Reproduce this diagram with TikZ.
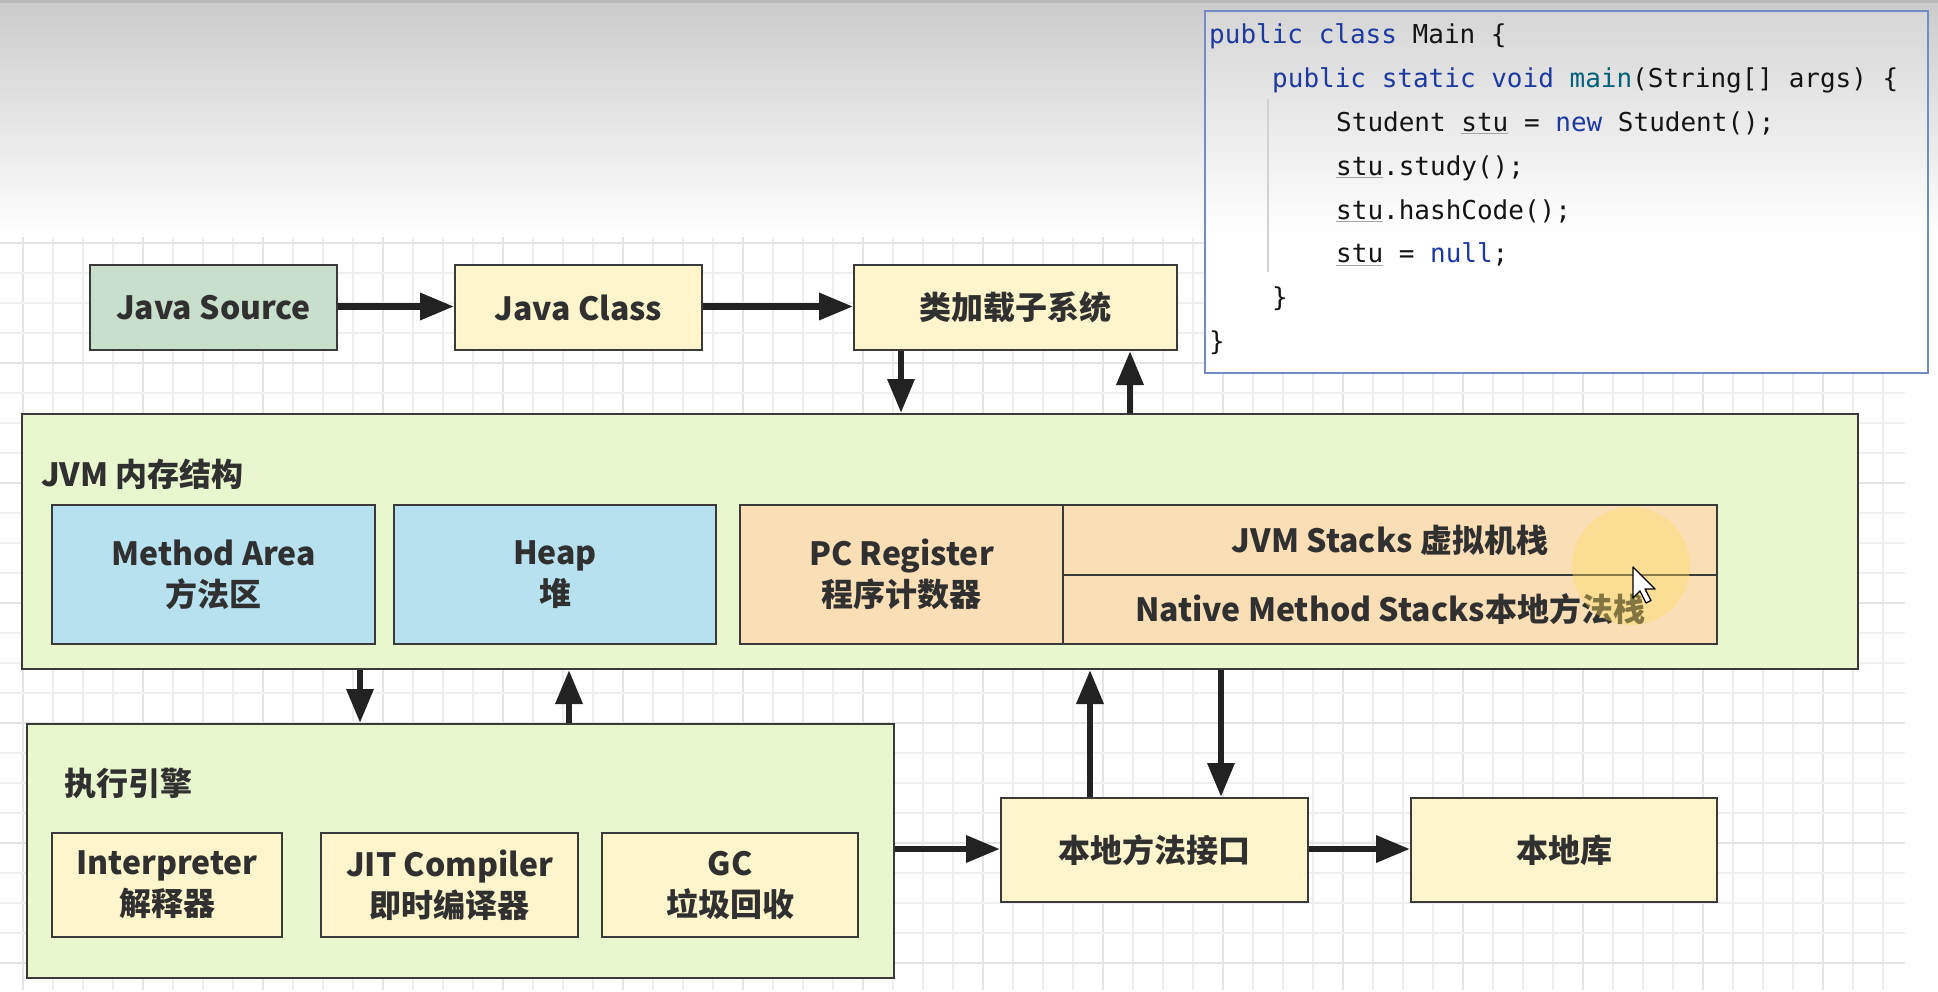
\documentclass[tikz,border=0pt]{standalone}
\usepackage{fontspec}
\setmainfont{Noto Sans CJK SC}
\setmonofont{DejaVu Sans Mono}
\usetikzlibrary{arrows.meta,calc}
\definecolor{bordc}{RGB}{58,58,58}
\definecolor{txtc}{RGB}{48,48,48}
\definecolor{arrc}{RGB}{34,34,34}
\definecolor{gsrc}{RGB}{200,223,203}
\definecolor{ylw}{RGB}{255,245,204}
\definecolor{lgrn}{RGB}{233,247,207}
\definecolor{lblu}{RGB}{184,225,240}
\definecolor{orng}{RGB}{250,222,182}
\definecolor{gridc}{RGB}{238,238,238}
\definecolor{gridm}{RGB}{228,228,228}
\definecolor{kwc}{RGB}{28,58,160}
\definecolor{fnc}{RGB}{0,98,122}
\definecolor{codec}{RGB}{20,20,20}
\definecolor{codeb}{RGB}{112,142,196}
\definecolor{hlc}{RGB}{253,222,95}
\definecolor{topg}{RGB}{203,203,203}
\definecolor{topl}{RGB}{185,185,185}
\definecolor{codetop}{RGB}{214,214,214}
\newcommand\bxf{\fontsize{32}{41}\selectfont\bfseries}
\newcommand\kw[1]{\textcolor{kwc}{#1}}
\newcommand\fnm[1]{\textcolor{fnc}{#1}}
\newcommand\stuvar{{\color{gray!70}\underline{\textcolor{codec}{stu}}}}
\tikzset{
  box/.style={draw=bordc, line width=2pt, inner sep=0pt, align=center, text=txtc, font=\bxf},
  arr/.style={draw=arrc, line width=6.5pt, -{Triangle[length=34pt,width=26pt]}},
  codeline/.style={anchor=base west, inner sep=0pt, text=codec, font=\ttfamily\fontsize{26}{30}\selectfont},
  lbl/.style={anchor=west, inner sep=0pt, text=txtc, font=\bxf}
}
\begin{document}
\begin{tikzpicture}[x=1pt,y=-1pt]
\useasboundingbox (0,0) rectangle (1938,992);
\fill[white] (0,0) rectangle (1938,992);
% grid
\foreach \k in {0,...,62} {
  \pgfmathtruncatemacro\mj{mod(\k,4)}
  \ifnum\mj=0 \def\gc{gridm}\else\def\gc{gridc}\fi
  \draw[\gc, line width=1.5pt] ({23+30*\k},237) -- ({23+30*\k},990);
}
\foreach \k in {8,...,33} {
  \pgfmathtruncatemacro\mj{mod(\k,4)}
  \ifnum\mj=0 \def\gc{gridm}\else\def\gc{gridc}\fi
  \draw[\gc, line width=1.5pt] (0,{3+30*\k}) -- (1905,{3+30*\k});
}
% top gradient
\shade[top color=topg, bottom color=white] (0,0) rectangle (1938,237);
\fill[topl] (0,0) rectangle (1938,3);

% code box
\fill[white] (1205,11) rectangle (1928,373);
\shade[top color=codetop, bottom color=white] (1205,11) rectangle (1928,237);
\draw[codeb, line width=2pt] (1205,11) rectangle (1928,373);
\draw[gray!35, line width=1.5pt] (1268,99) -- (1268,272);
\node[codeline] (l1) at (1209,43.5) {\kw{public class} Main \{};
\node[codeline] (l2) at (1272,87.4) {\kw{public static void} \fnm{main}(String[] args) \{};
\node[codeline] (l3) at (1336,131.3) {Student \stuvar{} = \kw{new} Student();};
\node[codeline] (l4) at (1336,175.2) {\stuvar.study();};
\node[codeline] (l5) at (1336,219.1) {\stuvar.hashCode();};
\node[codeline] (l6) at (1336,263) {\stuvar{} = \kw{null};};
\node[codeline] (l7) at (1272,306.9) {\}};
\node[codeline] (l8) at (1209,350.8) {\}};

% top row
\node[box, fill=gsrc, minimum width=247pt, minimum height=85pt] (src) at (213.5,307.5) {Java Source};
\node[box, fill=ylw, minimum width=247pt, minimum height=85pt] (jc) at (578.5,307.5) {Java Class};
\node[box, fill=ylw, minimum width=323pt, minimum height=85pt] (cl) at (1015.5,307.5) {类加载子系统};

% JVM memory
\node[box, fill=lgrn, minimum width=1836pt, minimum height=255pt] (jvm) at (940,541.5) {};
\node[lbl] (jvml) at (41,474) {JVM 内存结构};
\node[box, fill=lblu, minimum width=323pt, minimum height=139pt] (ma) at (213.5,574.5) {Method Area\\方法区};
\node[box, fill=lblu, minimum width=322pt, minimum height=139pt] (heap) at (555,574.5) {Heap\\堆};
\node[box, fill=orng, minimum width=323pt, minimum height=139pt] (pc) at (901.5,574.5) {PC Register\\程序计数器};
\node[box, fill=orng, minimum width=654pt, minimum height=70pt] (jst) at (1390,540) {JVM Stacks 虚拟机栈};
\node[box, fill=orng, minimum width=654pt, minimum height=69pt] (nst) at (1390,609.5) {Native Method Stacks本地方法栈};

% execution engine
\node[box, fill=lgrn, minimum width=867pt, minimum height=254pt] (exe) at (460.5,851) {};
\node[lbl] (exel) at (64,783) {执行引擎};
\node[box, fill=ylw, minimum width=230pt, minimum height=104pt] (interp) at (167,885) {Interpreter\\解释器};
\node[box, fill=ylw, minimum width=257pt, minimum height=104pt] (jit) at (449.5,885) {JIT Compiler\\即时编译器};
\node[box, fill=ylw, minimum width=256pt, minimum height=104pt] (gc) at (730,885) {GC\\垃圾回收};

% native
\node[box, fill=ylw, minimum width=307pt, minimum height=104pt] (ni) at (1154.5,850) {本地方法接口};
\node[box, fill=ylw, minimum width=306pt, minimum height=104pt] (nl) at (1564,850) {本地库};

% connector x positions
\coordinate (a1) at (901,0);
\coordinate (a2) at (1130,0);
\coordinate (a3) at (360,0);
\coordinate (a4) at (569,0);
\coordinate (a5) at (1090,0);
\coordinate (a6) at (1221,0);
\coordinate (r1) at (0,306.5);
\coordinate (r2) at (0,849);

\draw[arr] (src.east |- r1) -- (jc.west |- r1);
\draw[arr] (jc.east |- r1) -- (cl.west |- r1);
\draw[arr] (a1 |- cl.south) -- (a1 |- jvm.north);
\draw[arr] (a2 |- jvm.north) -- (a2 |- cl.south);
\draw[arr] (a3 |- jvm.south) -- (a3 |- exe.north);
\draw[arr] (a4 |- exe.north) -- (a4 |- jvm.south);
\draw[arr] (exe.east |- r2) -- (ni.west |- r2);
\draw[arr] (ni.east |- r2) -- (nl.west |- r2);
\draw[arr] (a5 |- ni.north) -- (a5 |- jvm.south);
\draw[arr] (a6 |- jvm.south) -- (a6 |- ni.north);

% highlight and cursor
\fill[hlc, opacity=0.4] (1631,566) circle (59);
\draw[black, fill=white, line width=1.3pt, line join=round] (1633,567) -- ++(0,31) -- ++(7,-7) -- ++(6,12) -- ++(5,-2.5) -- ++(-6,-11.5) -- ++(10,0) -- cycle;
\end{tikzpicture}
\end{document}
